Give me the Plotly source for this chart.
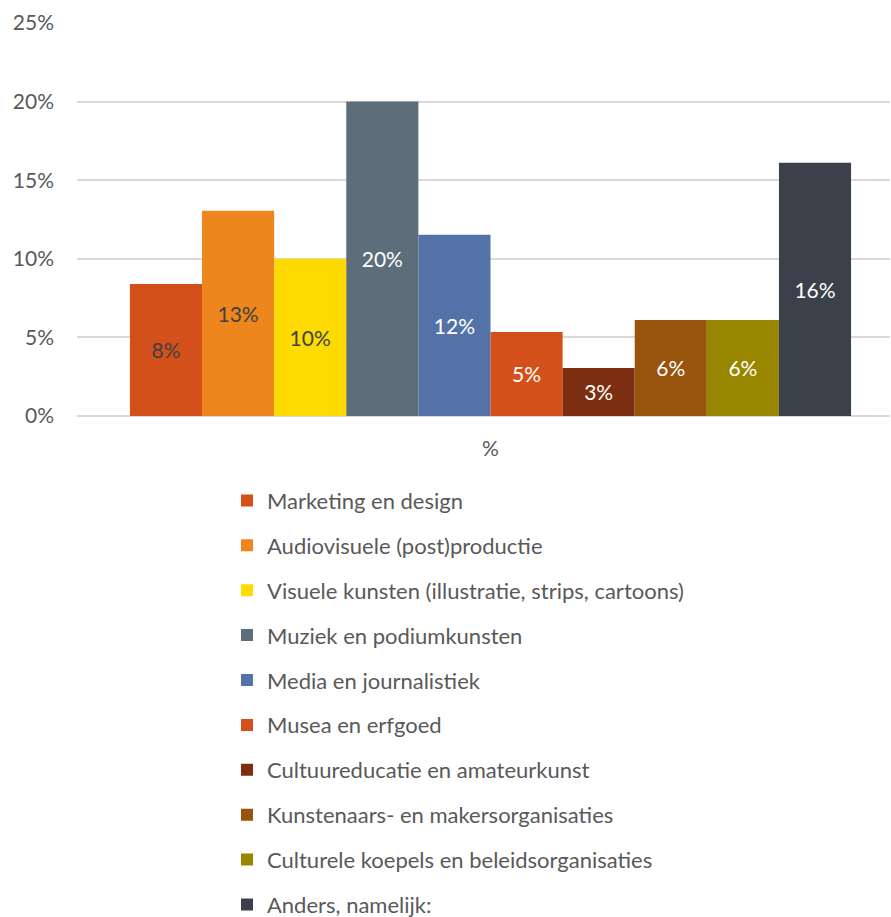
import plotly.graph_objects as go

# Sector shares (fraction of respondents)
categories = [
    "Marketing en design",
    "Audiovisuele (post)productie",
    "Visuele kunsten (illustratie, strips, cartoons)",
    "Muziek en podiumkunsten",
    "Media en journalistiek",
    "Musea en erfgoed",
    "Cultuureducatie en amateurkunst",
    "Kunstenaars- en makersorganisaties",
    "Culturele koepels en beleidsorganisaties",
    "Anders, namelijk:",
]
values = [0.084, 0.1306, 0.100, 0.200, 0.1153, 0.0535, 0.0306, 0.0611, 0.0611, 0.1611]
x_label = ["%"]

colors = ["#D4501A", "#EE861E", "#FDDB00", "#5D6D7A", "#5373A8",
          "#D4501A", "#7D2E10", "#98530D", "#988500", "#3A414B"]
text_colors = ["#404040", "#404040", "#404040", "#FFFFFF", "#FFFFFF",
               "#FFFFFF", "#FFFFFF", "#FFFFFF", "#FFFFFF", "#FFFFFF"]

FONT = "Lato"

fig = go.Figure()
for i, (name, val) in enumerate(zip(categories, values)):
    fig.add_trace(go.Bar(
        x=x_label,
        y=[val],
        name=name,
        legendgroup=f"g{i}",
        marker=dict(color=colors[i], line=dict(width=0)),
        texttemplate="%{y:.0%}",
        textposition="inside",
        insidetextanchor="middle",
        textangle=0,
        constraintext="none",
        textfont=dict(family=FONT, size=21, color=text_colors[i]),
    ))

fig.update_layout(
    width=891,
    height=917,
    margin=dict(l=77, r=1, t=23, b=501, autoexpand=False),
    paper_bgcolor="white",
    plot_bgcolor="white",
    barmode="group",
    bargap=0.113,
    bargroupgap=0,
    font=dict(family=FONT, size=21, color="#595959"),
    showlegend=True,
    legend=dict(
        orientation="v",
        x=0.1845,
        xanchor="left",
        y=-0.1618,
        yanchor="top",
        tracegroupgap=13.3,
        maxheight=1000,
        font=dict(family=FONT, size=22, color="#595959"),
        itemwidth=30,
        bgcolor="rgba(0,0,0,0)",
    ),
    xaxis=dict(
        type="category",
        range=[-0.5086, 0.4914],
        showgrid=False,
        showline=False,
        zeroline=False,
        ticks="",
        tickfont=dict(family=FONT, size=21, color="#595959"),
        ticklabelstandoff=18,
    ),
    yaxis=dict(
        range=[0, 0.25],
        dtick=0.05,
        tickformat=".0%",
        showgrid=True,
        gridcolor="#D9D9D9",
        gridwidth=1.5,
        zeroline=True,
        zerolinecolor="#D9D9D9",
        zerolinewidth=1.5,
        showline=False,
        ticks="",
        ticklabelstandoff=22,
        tickfont=dict(family=FONT, size=21, color="#595959"),
    ),
)

fig.write_html("out.html")
